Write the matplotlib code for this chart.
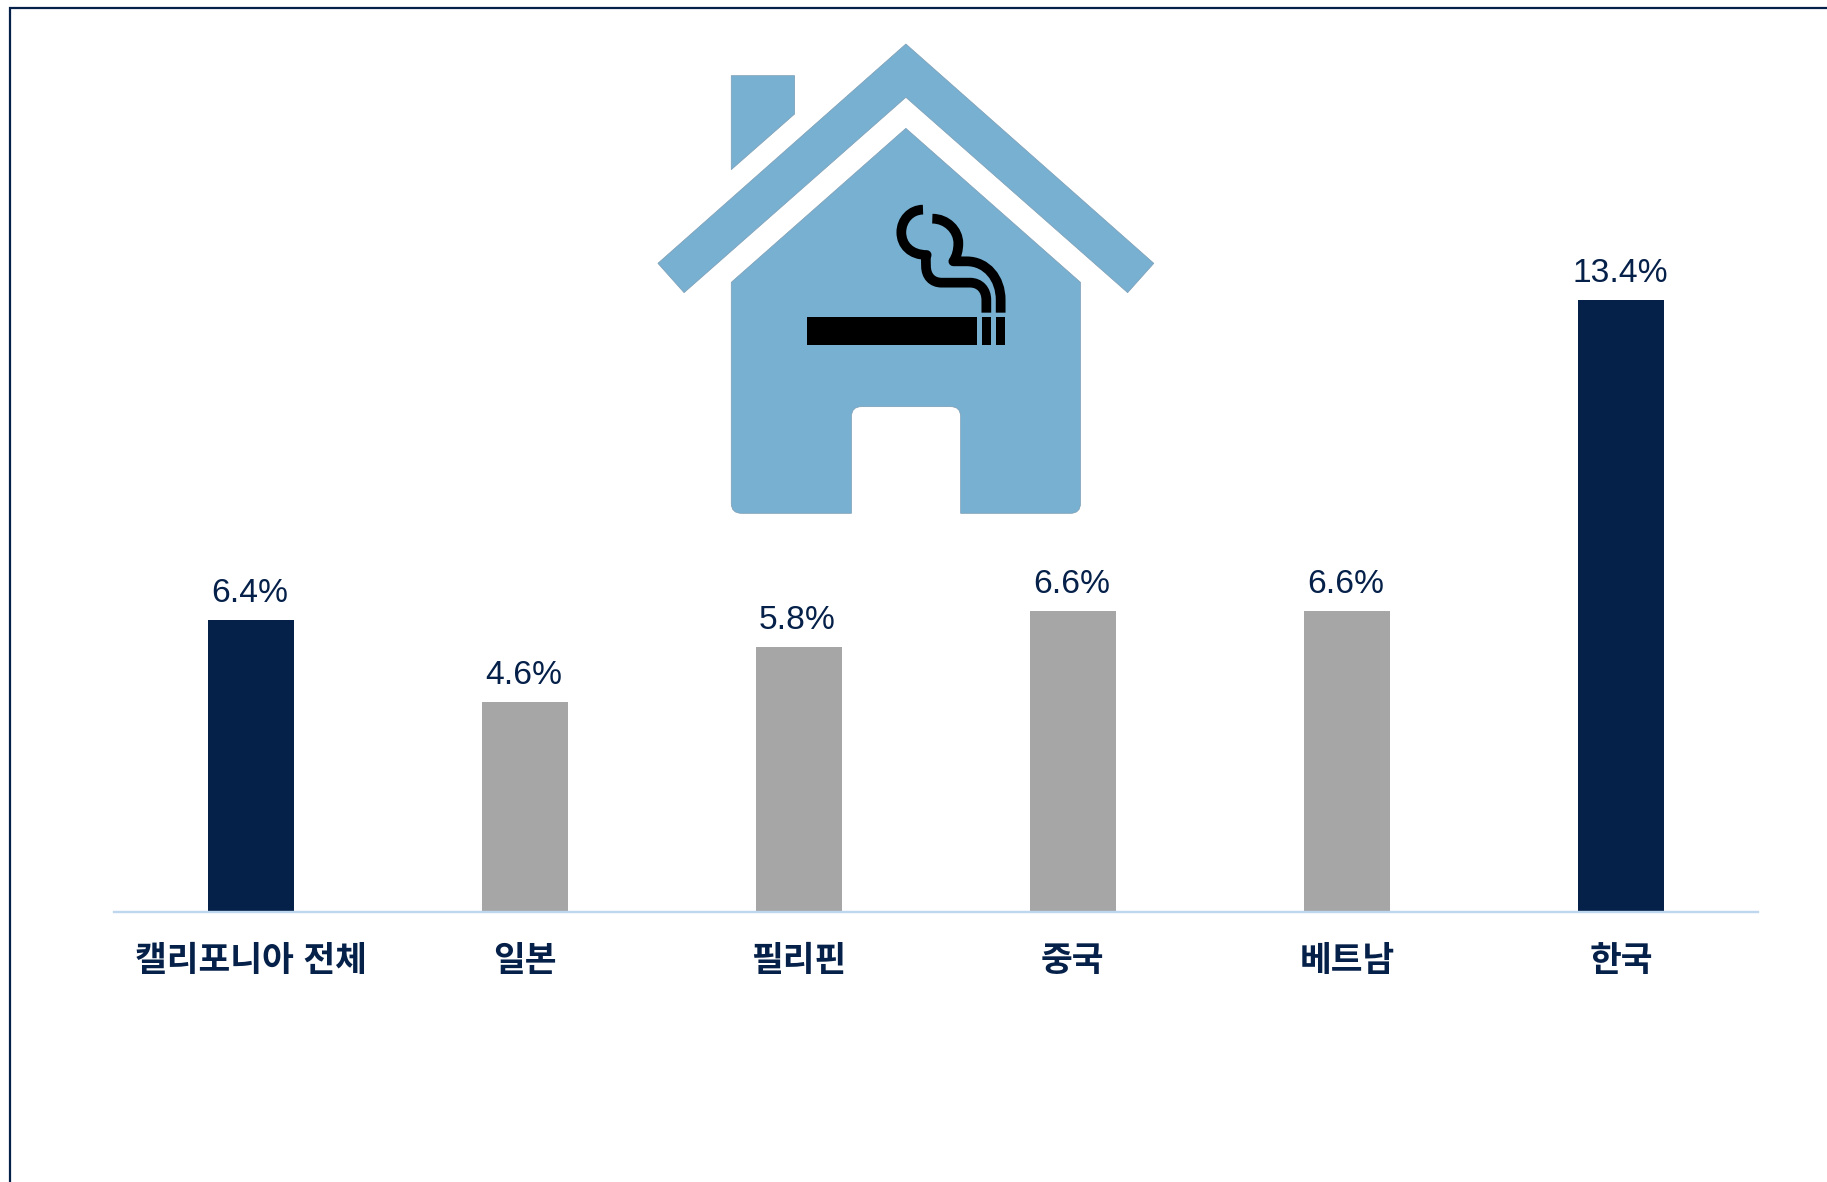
#!/usr/bin/env python3
"""Home smoking rates by group, with the no-smoking house icon above the bars."""
import matplotlib
matplotlib.use("Agg")
import matplotlib.pyplot as plt
from matplotlib.patches import PathPatch, Polygon, Rectangle
from matplotlib.path import Path

plt.rcParams["font.family"] = ["Liberation Sans", "Noto Sans CJK KR", "DejaVu Sans"]

categories = ["캘리포니아 전체", "일본", "필리핀", "중국", "베트남", "한국"]
values = [6.4, 4.6, 5.8, 6.6, 6.6, 13.4]
highlight = [True, False, False, False, False, True]

NAVY = "#052049"
GRAY = "#A6A6A6"
HOUSE = "#78B0D1"
EDGE = "#7C9DB4"
W, H = 1827, 1182

fig = plt.figure(figsize=(W / 100, H / 100), dpi=100, facecolor="white")

# --- bars ---
left, right, base, top = 113.5, 1758, 912, 300
ax = fig.add_axes([left / W, 1 - base / H, (right - left) / W, (base - top) / H])
ax.set_xlim(-0.5, 5.5)
ax.set_ylim(0, 13.4)
x = range(len(categories))
bar_colors = [NAVY if h else GRAY for h in highlight]
bars = ax.bar(x, values, width=0.314, color=bar_colors, zorder=2)
for bar, val in zip(bars, values):
    ax.annotate(f"{val:.1f}%", (bar.get_x() + bar.get_width() / 2, val),
                xytext=(-0.8, 13), textcoords="offset points",
                ha="center", va="baseline", fontsize=24.2, color=NAVY)
ax.set_xticks(list(x))
ax.set_xticklabels(categories, fontsize=24.9, fontweight="bold", color=NAVY)
ax.tick_params(axis="x", length=0, pad=24)
ax.set_yticks([])
for s in ["top", "left", "right"]:
    ax.spines[s].set_visible(False)
ax.spines["bottom"].set_color("#BDD7EE")
ax.spines["bottom"].set_linewidth(1.7)
ax.patch.set_alpha(0)

# --- overlay in pixel coords: frame and house icon ---
ov = fig.add_axes([0, 0, 1, 1], zorder=5)
ov.set_xlim(0, W)
ov.set_ylim(H, 0)
ov.axis("off")
ov.plot([10, 10, W], [H, 8, 8], color=NAVY, linewidth=1.6, solid_joinstyle="miter")


def z1(px, py):
    # coordinates
    return (640 + px * 540 / 1568, 20 + py / 3)


def z2(px, py):
    # coordinates
    return (780 + px / 3, 190 + py / 3)


roof = [(772, 72), (1492, 730), (1416, 818), (772, 232), (128, 818), (52, 730)]
chimney = [(265, 167), (449, 167), (449, 282), (265, 449)]
for pts in (roof, chimney):
    ov.add_patch(Polygon([z1(*p) for p in pts], closed=True, facecolor=HOUSE,
                         edgecolor=EDGE, linewidth=0.5))

M, L, Q, C = Path.MOVETO, Path.LINETO, Path.CURVE3, Path.CURVE4
body = [(772, 325), (1279, 787), (1279, 1450), (1279, 1480), (1250, 1480), (931, 1480),
        (931, 1190), (931, 1160), (902, 1160), (643, 1160), (614, 1160), (614, 1190),
        (614, 1480), (295, 1480), (265, 1480), (265, 1450), (265, 787), (772, 325)]
body_codes = [M, L, L, Q, Q, L, L, Q, Q, L, Q, Q, L, L, Q, Q, L, Path.CLOSEPOLY]
ov.add_patch(PathPatch(Path([z1(*p) for p in body], body_codes), facecolor=HOUSE,
                       edgecolor=EDGE, linewidth=0.5))

# cigarette
for x0, x1 in [(82, 590), (606, 632), (648, 675)]:
    (ax0, ay0), (ax1, ay1) = z2(x0, 382), z2(x1, 465)
    ov.add_patch(Rectangle((ax0, ay0), ax1 - ax0, ay1 - ay0, facecolor="black", edgecolor="none"))

# smoke
smoke_1 = [(429, 59), (392, 59), (364, 90), (364, 127), (364, 165), (392, 195), (440, 195),
           (436, 205), (438, 215), (438, 228), (438, 258), (456, 278), (485, 278),
           (570, 278), (600, 278), (619, 300), (619, 330), (619, 368)]
codes_1 = [M] + [C] * 12 + [L] + [C] * 3 + [L]
smoke_2 = [(457, 86), (500, 86), (535, 120), (535, 160), (535, 180), (530, 200), (520, 214),
           (560, 214), (620, 214), (662, 265), (662, 330), (662, 368)]
codes_2 = [M] + [C] * 6 + [L] + [C] * 3 + [L]
for pts, codes in ((smoke_1, codes_1), (smoke_2, codes_2)):
    verts = [z2(*p) for p in pts]
    ov.add_patch(PathPatch(Path(verts, codes), facecolor="none", edgecolor="black",
                           linewidth=7, capstyle="butt", joinstyle="round"))

fig.savefig("out.png", dpi=100)
plt.close(fig)
